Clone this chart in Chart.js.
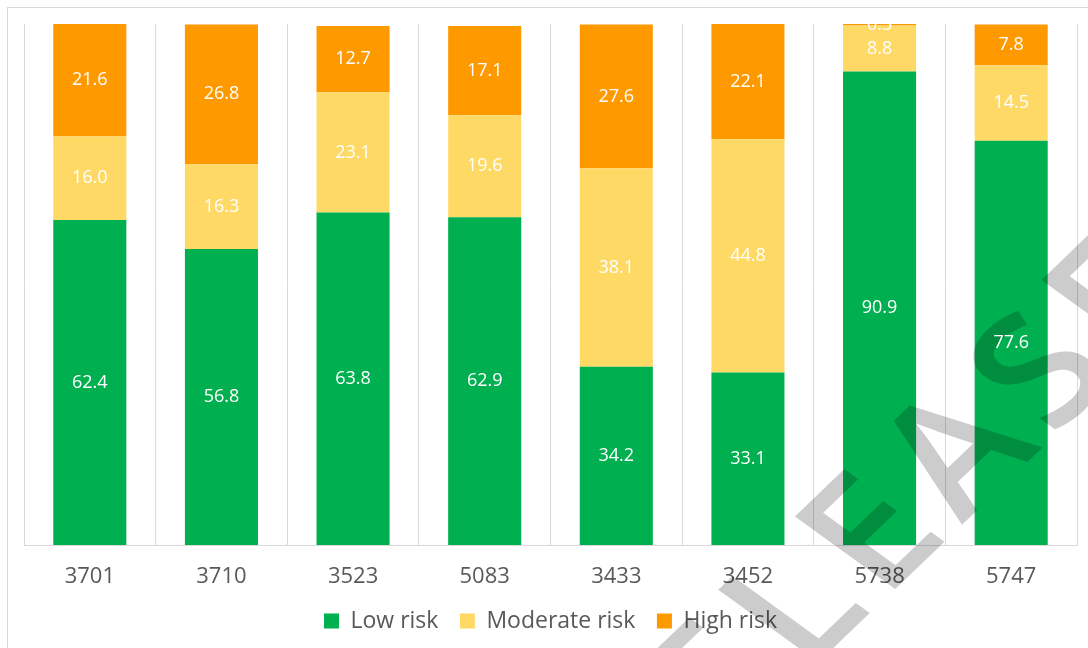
<!DOCTYPE html>
<html>
<head>
<meta charset="utf-8">
<script src="https://cdn.jsdelivr.net/npm/chart.js@4.4.0/dist/chart.umd.min.js"></script>
<style>
  html, body { margin: 0; padding: 0; background: #ffffff; }
  #wrap { position: relative; width: 1088px; height: 648px; overflow: hidden; }
  #frame { position: absolute; left: 7px; top: 7px; width: 1200px; height: 800px; border: 1px solid #d9d9d9; }
  #myChart { position: absolute; left: 0; top: 0; }
</style>
</head>
<body>
<div id="wrap">
  <div id="frame"></div>
  <canvas id="myChart" width="1088" height="648"></canvas>
</div>
<script>
// sites on the x axis
var sites = ['3701', '3710', '3523', '5083', '3433', '3452', '5738', '5747'];

// percentage of each risk class per site
var lowRisk = [62.4, 56.8, 63.8, 62.9, 34.2, 33.1, 90.9, 77.6];
var moderateRisk = [16.0, 16.3, 23.1, 19.6, 38.1, 44.8, 8.8, 14.5];
var highRisk = [21.6, 26.8, 12.7, 17.1, 27.6, 22.1, 0.3, 7.8];

Chart.defaults.font.family = "'Open Sans', sans-serif";

// watermark over the bars, then the value labels on top
var overlay = {
  id: 'overlay',
  afterDatasetsDraw: function(chart) {
    var ctx = chart.ctx;
    var area = chart.chartArea;

    // "RELEASE" watermark, drawn letter by letter around the 4th letter
    var word = 'RELEASE', size = 155, gap = 13;
    ctx.save();
    ctx.globalCompositeOperation = 'multiply';
    ctx.fillStyle = '#cccccc';
    ctx.font = '600 ' + size + "px 'Open Sans'";
    ctx.textAlign = 'center';
    ctx.textBaseline = 'alphabetic';
    var centers = [], pos = 0;
    for (var k = 0; k < word.length; k++) {
      var w = ctx.measureText(word[k]).width;
      centers.push(pos + w / 2);
      pos += w + gap;
    }
    ctx.scale(1.2, 1);
    ctx.translate(723, 531);
    ctx.rotate(-49 * Math.PI / 180);
    for (var k = 0; k < word.length; k++) {
      ctx.fillText(word[k], centers[k] - centers[3], size * 0.714 / 2);
    }
    ctx.restore();

    ctx.save();
    ctx.beginPath();
    ctx.rect(area.left, area.top, area.right - area.left, area.bottom - area.top);
    ctx.clip();
    ctx.fillStyle = '#ffffff';
    ctx.font = "18px 'Open Sans'";
    ctx.textAlign = 'center';
    ctx.textBaseline = 'middle';
    chart.data.datasets.forEach(function(ds, di) {
      var meta = chart.getDatasetMeta(di);
      meta.data.forEach(function(bar, i) {
        var y = (bar.y + bar.base) / 2;
        ctx.fillText(ds.data[i].toFixed(1), bar.x, y);
      });
    });
    ctx.restore();
  }
};

var ctx = document.getElementById('myChart').getContext('2d');
var chart = new Chart(ctx, {
  type: 'bar',
  data: {
    labels: sites,
    datasets: [
      { label: 'Low risk', data: lowRisk, backgroundColor: '#00B050' },
      { label: 'Moderate risk', data: moderateRisk, backgroundColor: '#FFD966' },
      { label: 'High risk', data: highRisk, backgroundColor: '#FF9900' }
    ]
  },
  options: {
    responsive: false,
    animation: false,
    layout: { padding: { left: 24, right: 11, top: 24, bottom: 5.5 } },
    datasets: {
      bar: { categoryPercentage: 1, barPercentage: 0.555, borderWidth: 0 }
    },
    scales: {
      x: {
        stacked: true,
        grid: { display: true, offset: true, color: '#d9d9d9', drawTicks: true, tickLength: 21, tickColor: 'rgba(0,0,0,0)' },
        border: { display: true, color: '#d9d9d9' },
        ticks: { color: '#595959', padding: 0, font: { size: 22, lineHeight: 1 } }
      },
      y: {
        stacked: true,
        display: false,
        min: 0,
        max: 100
      }
    },
    plugins: {
      legend: {
        position: 'bottom',
        labels: {
          boxWidth: 15,
          boxHeight: 15,
          padding: 21.5,
          color: '#595959',
          font: { size: 23 }
        }
      },
      tooltip: { enabled: false }
    }
  },
  plugins: [overlay]
});
</script>
</body>
</html>
